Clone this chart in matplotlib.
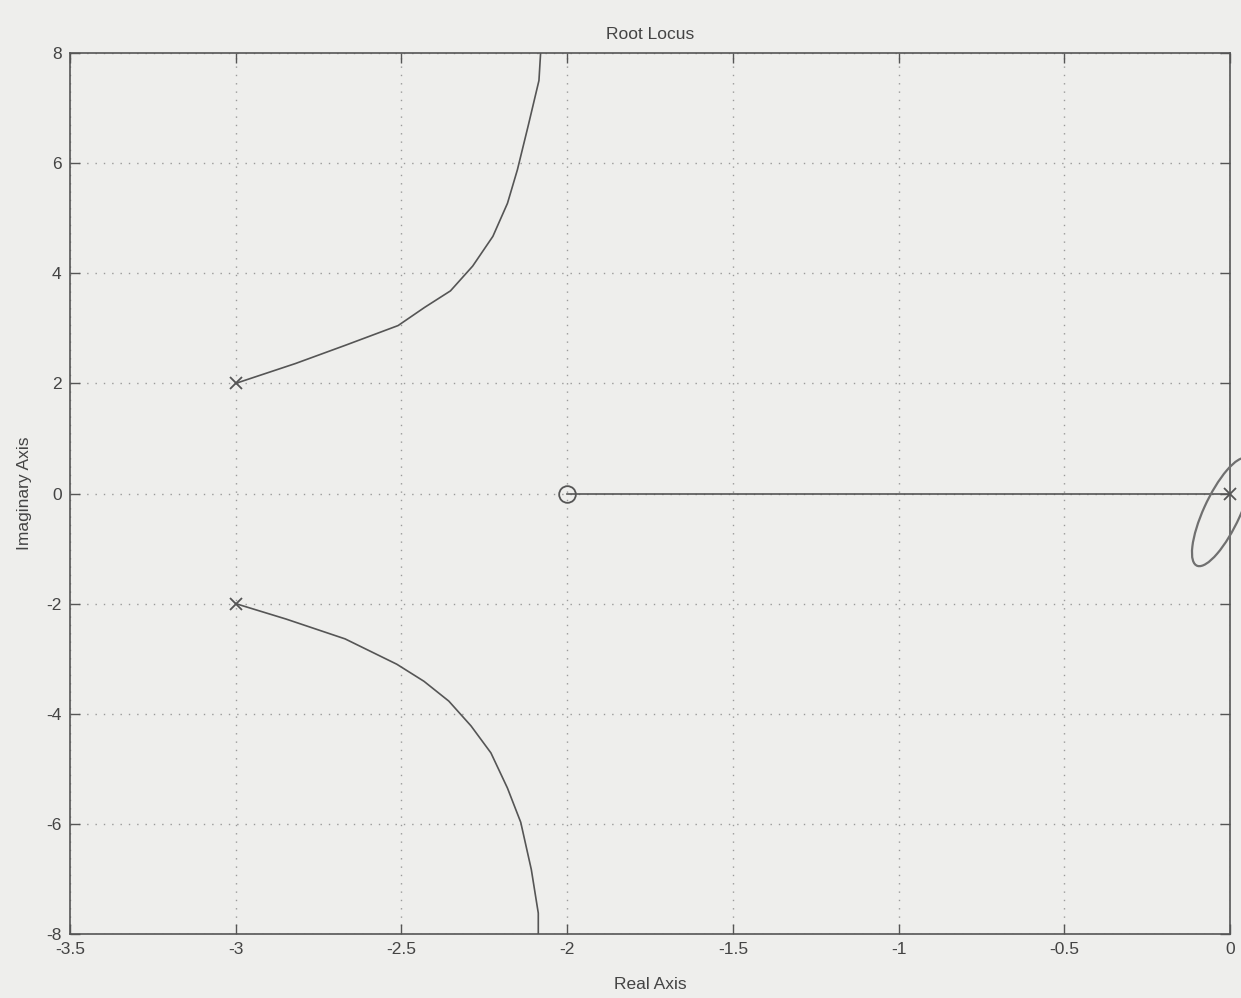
import matplotlib
matplotlib.use("Agg")
import matplotlib.pyplot as plt
from matplotlib.patches import Ellipse

plt.rcParams['font.family'] = ['Liberation Sans', 'DejaVu Sans']
plt.rcParams['axes.unicode_minus'] = False

# Root locus branches (real, imag)
upper_re = [-3.0, -2.82, -2.67, -2.51, -2.43, -2.352, -2.285, -2.224, -2.18,
            -2.15, -2.117, -2.085, -2.08]
upper_im = [2.0, 2.36, 2.69, 3.05, 3.38, 3.68, 4.13, 4.67, 5.27,
            5.88, 6.69, 7.5, 8.0]
lower_re = [-3.0, -2.848, -2.67, -2.514, -2.432, -2.357, -2.29, -2.23, -2.18,
            -2.14, -2.108, -2.087, -2.087]
lower_im = [-2.0, -2.28, -2.64, -3.1, -3.41, -3.77, -4.22, -4.71, -5.35,
            -5.97, -6.83, -7.62, -8.0]
real_re = [-2.0, 0.0]
real_im = [0.0, 0.0]

pole_re = [-3.0, -3.0, 0.0]
pole_im = [2.0, -2.0, 0.0]
zero_re = [-2.0]
zero_im = [0.0]

xticks = [-3.5, -3, -2.5, -2, -1.5, -1, -0.5, 0]
xticklabels = ['-3.5', '-3', '-2.5', '-2', '-1.5', '-1', '-0.5', '0']
yticks = [-8, -6, -4, -2, 0, 2, 4, 6, 8]

paper = '#eeeeec'
ink = '#555555'
txt = '#444444'

fig = plt.figure(figsize=(12.41, 9.98), dpi=100, facecolor=paper)
ax = fig.add_axes([0.0564, 0.0641, 0.9347, 0.8828], facecolor=paper)

ax.plot(upper_re, upper_im, color=ink, lw=1.2)
ax.plot(lower_re, lower_im, color=ink, lw=1.2)
ax.plot(real_re, real_im, color=ink, lw=1.2)
ax.plot(pole_re, pole_im, linestyle='none', marker='x', color=ink,
        markersize=9, mew=1.3, clip_on=False)
ax.plot(zero_re, zero_im, linestyle='none', marker='o', color=ink,
        markersize=12, mew=1.3, fillstyle='none')

ax.set_xlim(-3.5, 0)
ax.set_ylim(-8, 8)
ax.set_xticks(xticks)
ax.set_xticklabels(xticklabels)
ax.set_yticks(yticks)
ax.grid(True, color='#9a9a9a', linestyle=(0, (1, 5)), linewidth=1.0)
ax.tick_params(direction='in', top=True, right=True, length=7,
               width=1.0, color=ink, labelsize=12.5, labelcolor=txt, pad=6)
for s in ax.spines.values():
    s.set_color(ink)
    s.set_linewidth(1.2)

ax.set_title('Root Locus', fontsize=12.5, color=txt, pad=10)
ax.set_xlabel('Real Axis', fontsize=12.5, color=txt, labelpad=14)
ax.set_ylabel('Imaginary Axis', fontsize=12.5, color=txt, labelpad=10)

# handwritten pen loop around the origin pole (annotation on the scan)
loop = Ellipse((1222 / 1241, 1 - 512 / 998), 0.030, 0.115, angle=-20,
               transform=fig.transFigure, fill=False, edgecolor='#707070',
               lw=1.6)
fig.add_artist(loop)

fig.savefig('out.png', dpi=100, facecolor=paper)
